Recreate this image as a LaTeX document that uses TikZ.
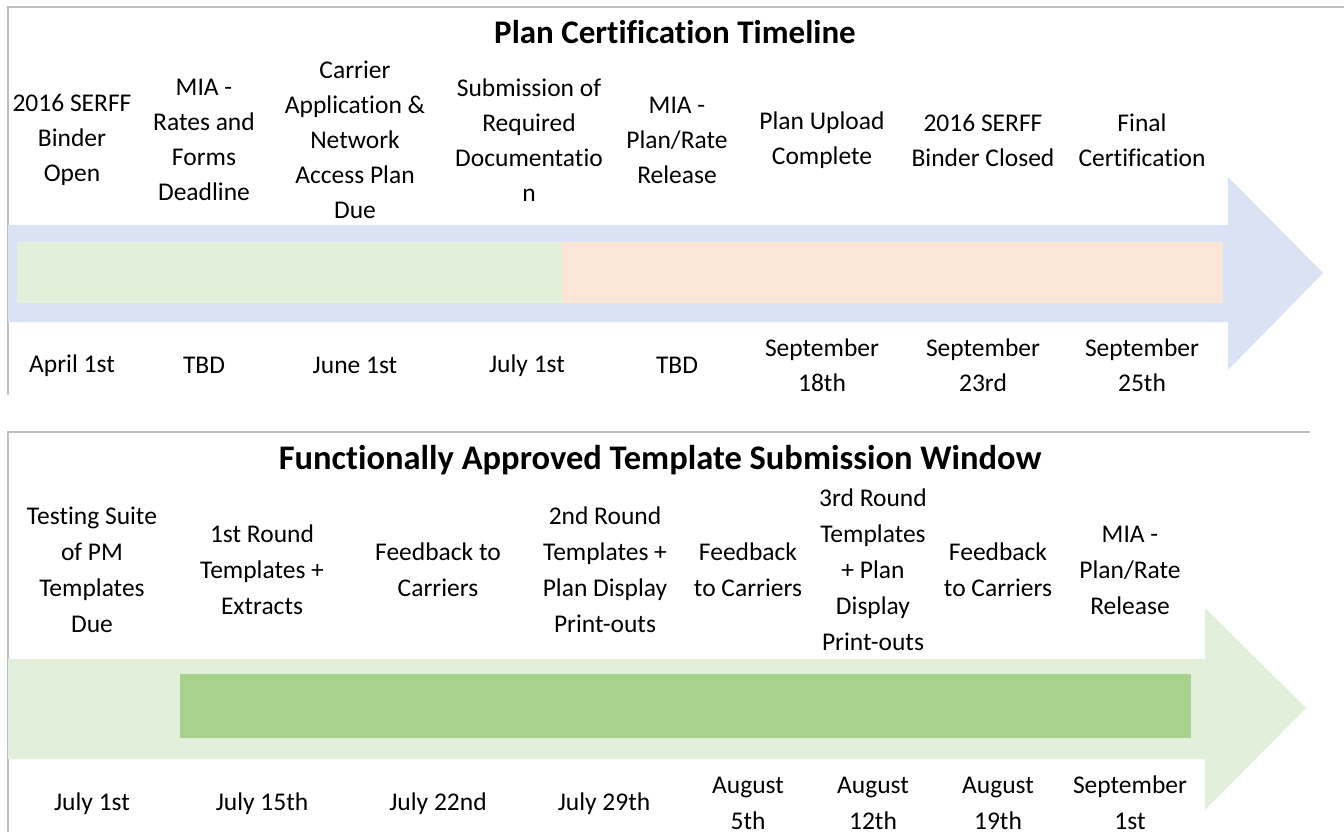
\documentclass[tikz,border=0pt]{standalone}
\usepackage{fontspec}
\setmainfont[RawFeature=-liga]{Carlito}
\definecolor{bandblue}{HTML}{DAE3F3}
\definecolor{bandgreen}{HTML}{E2EFDA}
\definecolor{phaseorange}{HTML}{FBE5D6}
\definecolor{phasegreen}{HTML}{A9D18E}
\definecolor{framegray}{HTML}{BFBFBF}
\tikzset{
  frame/.style={draw=framegray, line width=1.5pt},
  heading/.style={inner sep=0pt},
  toplabel/.style={align=center, inner sep=0pt, font=\fontsize{25.5}{35}\selectfont},
  lowlabel/.style={align=center, inner sep=0pt, font=\fontsize{25.5}{36}\selectfont},
}
\begin{document}
\begin{tikzpicture}[x=1pt,y=-1pt]
\useasboundingbox (0,0) rectangle (1344,832);
\fill[white] (0,0) rectangle (1344,832);

% ---------- Plan certification panel ----------
\draw[frame] (1344,7) -- (8,7) -- (8,395);
\fill[bandblue] (8,225) -- (1228,225) -- (1228,177) -- (1323,273)
  -- (1228,370) -- (1228,322) -- (8,322) -- cycle;
\fill[bandgreen] (17,242) rectangle (562,303);
\fill[phaseorange] (562,242) rectangle (1223,303);

\node[heading, font=\fontsize{33}{38}\selectfont\bfseries] (t1) at (675,32)
  {Plan Certification Timeline};

\node[toplabel] (a1) at (72,140) {2016 SERFF\\Binder\\Open};
\node[toplabel] (a2) at (204,140) {MIA -\\Rates and\\Forms\\Deadline};
\node[toplabel] (a3) at (355,140) {Carrier\\Application \&\\Network\\Access Plan\\Due};
\node[toplabel] (a4) at (529,140) {Submission of\\Required\\Documentatio\\n};
\node[toplabel] (a5) at (677,140) {MIA -\\Plan/Rate\\Release};
\node[toplabel] (a6) at (822,140) {Plan Upload\\Complete};
\node[toplabel] (a7) at (983,140) {2016 SERFF\\Binder Closed};
\node[toplabel] (a8) at (1142,140) {Final\\Certification};

\node[toplabel] (d1) at (72,366) {April 1st};
\node[toplabel] (d2) at (204,365) {TBD};
\node[toplabel] (d3) at (355,365) {June 1st};
\node[toplabel] (d4) at (527,366) {July 1st};
\node[toplabel] (d5) at (677,365) {TBD};
\node[toplabel] (d6) at (822,365) {September\\18th};
\node[toplabel] (d7) at (983,365) {September\\23rd};
\node[toplabel] (d8) at (1142,365) {September\\25th};

% ---------- Template submission panel ----------
\draw[frame] (1310,432) -- (8,432) -- (8,832);
\fill[bandgreen] (8,659) -- (1205,659) -- (1205,608) -- (1306,708)
  -- (1205,810) -- (1205,759) -- (8,759) -- cycle;
\fill[phasegreen] (180,674) rectangle (1191,738);

\node[heading, font=\fontsize{34.5}{40}\selectfont\bfseries] (t2) at (660,460)
  {Functionally Approved Template Submission Window};

\node[lowlabel] (b1) at (92,570) {Testing Suite\\of PM\\Templates\\Due};
\node[lowlabel] (b2) at (262,570) {1st Round\\Templates +\\Extracts};
\node[lowlabel] (b3) at (438,570) {Feedback to\\Carriers};
\node[lowlabel] (b4) at (605,570) {2nd Round\\Templates +\\Plan Display\\Print-outs};
\node[lowlabel] (b5) at (748,570) {Feedback\\to Carriers};
\node[lowlabel] (b6) at (873,570) {3rd Round\\Templates\\+ Plan\\Display\\Print-outs};
\node[lowlabel] (b7) at (998,570) {Feedback\\to Carriers};
\node[lowlabel] (b8) at (1130,570) {MIA -\\Plan/Rate\\Release};

\node[lowlabel] (e1) at (92,804) {July 1st};
\node[lowlabel] (e2) at (262,804) {July 15th};
\node[lowlabel] (e3) at (438,804) {July 22nd};
\node[lowlabel] (e4) at (604,804) {July 29th};
\node[lowlabel] (e5) at (748,803) {August\\5th};
\node[lowlabel] (e6) at (873,803) {August\\12th};
\node[lowlabel] (e7) at (998,803) {August\\19th};
\node[lowlabel] (e8) at (1130,803) {September\\1st};
\end{tikzpicture}
\end{document}
